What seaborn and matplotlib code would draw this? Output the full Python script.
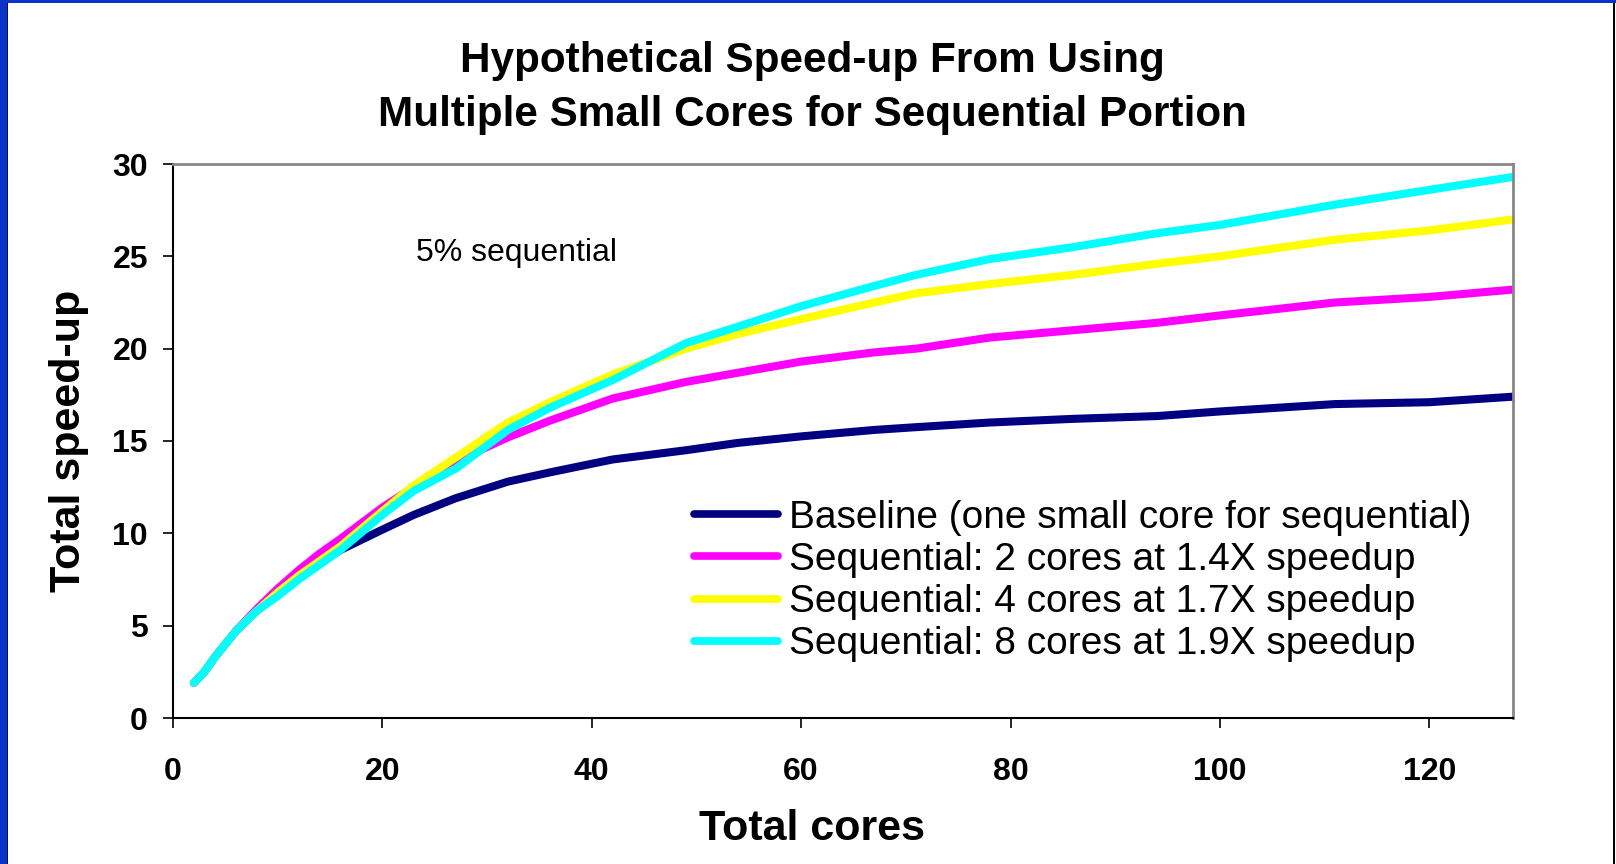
import matplotlib
matplotlib.use("Agg")
import matplotlib.pyplot as plt
from matplotlib.patches import Rectangle
import seaborn as sns
import pandas as pd

# ---- data ----
cores = [2, 3, 4, 6, 8, 10, 12, 14, 16, 20, 23, 27, 32, 36, 42, 49, 54, 60,
         67, 71, 78, 86, 94, 100, 111, 120, 128]
baseline = [1.9, 2.5, 3.3, 4.7, 5.8, 6.7, 7.6, 8.4, 9.1, 10.2, 11.0, 11.9, 12.8,
            13.3, 14.0, 14.5, 14.9, 15.25, 15.6, 15.75, 16.0, 16.2, 16.35, 16.6,
            17.0, 17.1, 17.4]
seq2 = [1.9, 2.5, 3.3, 4.7, 5.9, 7.0, 8.0, 8.9, 9.7, 11.4, 12.5, 13.9, 15.2,
        16.1, 17.3, 18.2, 18.7, 19.3, 19.8, 20.0, 20.6, 21.0, 21.4, 21.8,
        22.5, 22.8, 23.2]
seq4 = [1.9, 2.5, 3.3, 4.7, 5.8, 6.8, 7.7, 8.5, 9.3, 11.2, 12.6, 14.1, 16.0,
        17.1, 18.6, 20.0, 20.8, 21.6, 22.5, 23.0, 23.5, 24.0, 24.6, 25.0,
        25.9, 26.4, 27.0]
seq8 = [1.9, 2.5, 3.3, 4.7, 5.8, 6.6, 7.5, 8.3, 9.1, 11.0, 12.3, 13.5, 15.6,
        16.8, 18.3, 20.3, 21.2, 22.3, 23.4, 24.0, 24.85, 25.5, 26.25, 26.7,
        27.8, 28.6, 29.3]
series_names = ["Baseline (one small core for sequential)",
                "Sequential: 2 cores at 1.4X speedup",
                "Sequential: 4 cores at 1.7X speedup",
                "Sequential: 8 cores at 1.9X speedup"]
series_values = [baseline, seq2, seq4, seq8]
colors = ["#000080", "#FF00FF", "#FFFF00", "#00FFFF"]
x_ticks = [0, 20, 40, 60, 80, 100, 120]
y_ticks = [0, 5, 10, 15, 20, 25, 30]

df = pd.concat([pd.DataFrame({"cores": cores, "speedup": v, "series": n})
                for n, v in zip(series_names, series_values)], ignore_index=True)

sns.set_theme(style="white")
plt.rcParams["font.family"] = ["Liberation Sans", "DejaVu Sans"]
plt.rcParams["text.color"] = "black"
plt.rcParams["axes.labelcolor"] = "black"
plt.rcParams["xtick.color"] = "black"
plt.rcParams["ytick.color"] = "black"

W, H = 1616, 864
fig = plt.figure(figsize=(W / 100, H / 100), dpi=100)
fig.patch.set_facecolor("white")
ax = fig.add_axes([173 / W, 1 - 718 / H, (1513 - 173) / W, (718 - 164) / H])

sns.lineplot(data=df, x="cores", y="speedup", hue="series", hue_order=series_names,
             palette=colors, estimator=None, linewidth=5.8, ax=ax, legend=False,
             solid_capstyle="round", solid_joinstyle="round")

ax.set_xlim(0, 128)
ax.set_ylim(0, 30)
ax.set_xticks(x_ticks)
ax.set_yticks(y_ticks)
ax.tick_params(axis="both", which="major", direction="out", length=7, width=1.2,
               color="black", labelcolor="black", labelsize=23, pad=11,
               bottom=True, left=True)
ax.tick_params(axis="x", pad=21)
for lab in ax.get_xticklabels() + ax.get_yticklabels():
    lab.set_fontweight("bold")

for side in ["left", "bottom"]:
    ax.spines[side].set_color("black")
    ax.spines[side].set_linewidth(1.5)
for side in ["top", "right"]:
    ax.spines[side].set_color("#888888")
    ax.spines[side].set_linewidth(2)

ax.set_xlabel("Total cores", fontsize=31, fontweight="bold", color="black")
ax.set_ylabel("Total speed-up", fontsize=31, fontweight="bold", color="black")
ax.xaxis.set_label_coords((812 - 173) / 1340, -0.165)
ax.yaxis.set_label_coords(-0.063, 0.5)

ax.text(23.2, 25.2, "5% sequential", fontsize=23, ha="left", va="center",
        color="black")

handles = ax.get_lines()[:4]
leg = ax.legend(handles, series_names, loc="center left", frameon=False,
                bbox_to_anchor=((694 - 173) / 1340, (718 - 581) / 554),
                fontsize=28, handlelength=2.15, handletextpad=0.3,
                labelspacing=0.16, borderpad=0, borderaxespad=0)
for t in leg.get_texts():
    t.set_color("black")
for h in leg.get_lines():
    h.set_linewidth(5.5)
    h.set_solid_capstyle("round")

fig.text(812 / W, 1 - 61 / H, "Hypothetical Speed-up From Using",
         fontsize=30.4, fontweight="bold", ha="center", va="center", color="black")
fig.text(812 / W, 1 - 115 / H, "Multiple Small Cores for Sequential Portion",
         fontsize=30.4, fontweight="bold", ha="center", va="center", color="black")

# slide frame: blue strips on left and top, dark line on right
fig.patches.append(Rectangle((0, 0), 7 / W, 1, transform=fig.transFigure,
                             facecolor="#0A34C8", edgecolor="none", zorder=10))
fig.patches.append(Rectangle((0, 1 - 3 / H), 1, 3 / H, transform=fig.transFigure,
                             facecolor="#0A34C8", edgecolor="none", zorder=10))
fig.patches.append(Rectangle((7 / W, 0), 1 / W, 1 - 3 / H, transform=fig.transFigure,
                             facecolor="#001060", edgecolor="none", zorder=10))
fig.patches.append(Rectangle((1613 / W, 0), 2 / W, 1 - 3 / H, transform=fig.transFigure,
                             facecolor="black", edgecolor="none", zorder=10))

fig.savefig("out.png", dpi=100, facecolor=fig.get_facecolor())
